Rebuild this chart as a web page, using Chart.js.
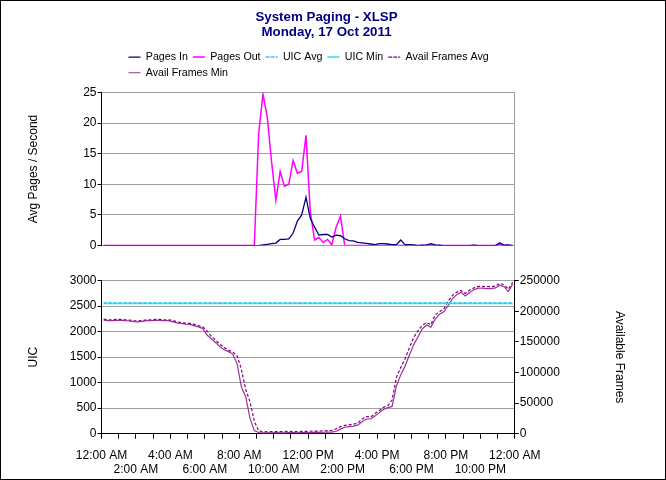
<!DOCTYPE html>
<html>
<head>
<meta charset="utf-8">
<title>System Paging - XLSP</title>
<script src="https://cdn.jsdelivr.net/npm/chart.js@4.4.1/dist/chart.umd.min.js"></script>
<style>
  html, body { margin: 0; padding: 0; background: #fff; }
  #frame { width: 666px; height: 480px; box-sizing: border-box; border: 1px solid #000; background: #fff; }
</style>
</head>
<body>
<div id="frame"><canvas id="paging"></canvas></div>
<script>
// 15 minute samples, 00:00 .. 23:45
const times = [];
for (let h = 0; h < 24; h++) {
  for (let m = 0; m < 60; m += 15) {
    times.push(String(h).padStart(2, "0") + ":" + String(m).padStart(2, "0"));
  }
}

// axis labels every 2 hours
const hourLabels = [
  "12:00 AM", "2:00 AM", "4:00 AM", "6:00 AM", "8:00 AM", "10:00 AM", "12:00 PM",
  "2:00 PM", "4:00 PM", "6:00 PM", "8:00 PM", "10:00 PM", "12:00 AM",
];

const pagesIn = [
  0, 0, 0, 0, 0, 0, 0, 0, 0, 0, 0, 0,
  0, 0, 0, 0, 0, 0, 0, 0, 0, 0, 0, 0,
  0, 0, 0, 0, 0, 0, 0, 0, 0, 0, 0, 0,
  0, 0.1, 0.2, 0.3, 0.4, 1.0, 1.0, 1.1, 2.0, 4.0, 5.0, 7.9,
  4.4, 3.0, 1.7, 1.8, 1.8, 1.4, 1.7, 1.6, 1.1, 0.8, 0.75, 0.5,
  0.45, 0.35, 0.25, 0.15, 0.3, 0.3, 0.25, 0.15, 0.15, 0.9, 0.15, 0.15,
  0.1, 0, 0.05, 0.1, 0.3, 0.1, 0.05, 0, 0, 0, 0, 0,
  0, 0, 0.05, 0, 0, 0, 0, 0, 0.45, 0.05, 0.1, 0,
];

const pagesOut = [
  0, 0, 0, 0, 0, 0, 0, 0, 0, 0, 0, 0,
  0, 0, 0, 0, 0, 0, 0, 0, 0, 0, 0, 0,
  0, 0, 0, 0, 0, 0, 0, 0, 0, 0, 0, 0,
  18.3, 24.7, 21.0, 13.7, 7.4, 12.1, 9.7, 10.0, 13.9, 11.8, 12.1, 18.0,
  5.5, 0.9, 1.3, 0.5, 1.0, 0.1, 3.0, 4.8, 0, 0, 0, 0,
  0, 0, 0, 0, 0, 0, 0, 0, 0, 0, 0, 0,
  0, 0, 0, 0, 0.15, 0, 0, 0, 0, 0, 0, 0,
  0, 0, 0, 0, 0, 0, 0, 0, 0.2, 0, 0, 0,
];

const uicAvg = [
  2565, 2565, 2565, 2565, 2565, 2565, 2565, 2565, 2565, 2565, 2565, 2565,
  2565, 2565, 2565, 2565, 2565, 2565, 2565, 2565, 2565, 2565, 2565, 2565,
  2565, 2565, 2565, 2565, 2565, 2565, 2565, 2565, 2565, 2565, 2565, 2565,
  2565, 2565, 2565, 2565, 2565, 2565, 2565, 2565, 2565, 2565, 2565, 2565,
  2565, 2565, 2565, 2565, 2565, 2565, 2565, 2565, 2565, 2565, 2565, 2565,
  2565, 2565, 2565, 2565, 2565, 2565, 2565, 2565, 2565, 2565, 2565, 2565,
  2565, 2565, 2565, 2565, 2565, 2565, 2565, 2565, 2565, 2565, 2565, 2565,
  2565, 2565, 2565, 2565, 2565, 2565, 2565, 2565, 2565, 2565, 2565, 2565,
];

const uicMin = [
  2550, 2550, 2550, 2550, 2550, 2550, 2550, 2550, 2550, 2550, 2550, 2550,
  2550, 2550, 2550, 2550, 2550, 2550, 2550, 2550, 2550, 2550, 2550, 2550,
  2550, 2550, 2550, 2550, 2550, 2550, 2550, 2550, 2550, 2550, 2550, 2550,
  2550, 2550, 2550, 2550, 2550, 2550, 2550, 2550, 2550, 2550, 2550, 2550,
  2550, 2550, 2550, 2550, 2550, 2550, 2550, 2550, 2550, 2550, 2550, 2550,
  2550, 2550, 2550, 2550, 2550, 2550, 2550, 2550, 2550, 2550, 2550, 2550,
  2550, 2550, 2550, 2550, 2550, 2550, 2550, 2550, 2550, 2550, 2550, 2550,
  2550, 2550, 2550, 2550, 2550, 2550, 2550, 2550, 2550, 2550, 2550, 2550,
];

const framesAvg = [
  187000, 186000, 186000, 186500, 186500, 186000, 185500, 184500, 184000, 185000, 186000, 186000,
  186500, 186500, 186000, 186000, 185000, 182500, 181500, 180500, 180000, 178500, 176500, 174500,
  168000, 159000, 153000, 146000, 140500, 136500, 133500, 127000, 105000, 72000, 52000, 20000,
  4500, 3500, 3200, 3400, 3600, 3300, 3500, 3800, 3600, 3400, 3700, 3900,
  4000, 4200, 4400, 4600, 5000, 5500, 8000, 11500, 13500, 14500, 15500, 17000,
  24000, 28000, 27000, 33000, 37500, 43000, 46000, 55000, 92000, 108000, 122000, 140000,
  157000, 168000, 177000, 181500, 178000, 194000, 199000, 203500, 216000, 225500, 231000, 234000,
  229000, 234500, 238000, 240500, 240500, 240000, 240000, 241000, 245500, 243000, 236000, 247000,
];

const framesMin = [
  185500, 184500, 184500, 185000, 185000, 184500, 184000, 183000, 182500, 183500, 184500, 184500,
  185000, 185000, 184500, 184500, 183000, 181000, 180000, 179000, 178500, 176500, 174500, 172000,
  161000, 155000, 149000, 142000, 137000, 134000, 130000, 114000, 76000, 60000, 25000, 5000,
  2000, 1500, 1400, 1500, 1600, 1400, 1500, 1700, 1600, 1500, 1700, 1800,
  1900, 2000, 2200, 2400, 2600, 2500, 4000, 7500, 10500, 11500, 12500, 14000,
  19500, 24000, 24000, 29000, 34000, 39500, 42500, 44500, 78000, 96000, 110000, 128000,
  145000, 158000, 171000, 177500, 174000, 187000, 195000, 199000, 209000, 220000, 227000, 231000,
  225000, 230500, 235000, 237500, 237500, 237000, 237000, 238000, 242500, 240000, 232000, 244000,
];

Chart.defaults.font.family = "'Liberation Sans', Arial, sans-serif";
Chart.defaults.font.size = 12;
Chart.defaults.color = "#000";

const gridGrey = "#a0a0a0";

function line(label, data, axis, color, width, dash) {
  return {
    label: label,
    data: data,
    yAxisID: axis,
    borderColor: color,
    backgroundColor: color,
    borderWidth: width,
    borderDash: dash || [],
    pointRadius: 0,
    tension: 0,
    fill: false,
  };
}

// fixed axis box sizes so both panels line up with the reference
const leftWidth = (scale) => { scale.width = 80.5; };
const rightWidth = (scale) => { scale.width = 117.2; };

// the legend block starts a little right of the plot edge
const legendNudge = {
  id: "legendNudge",
  afterLayout(chart) {
    chart.legend.left += 22;
    chart.legend.right += 22;
  },
};

new Chart(document.getElementById("paging"), {
  type: "line",
  data: {
    labels: times,
    datasets: [
      line("Pages In", pagesIn, "yTop", "#000080", 1.3),
      line("Pages Out", pagesOut, "yTop", "#ff00ff", 1.5),
      line("UIC Avg", uicAvg, "yUIC", "#33ccff", 1.5, [3, 2]),
      line("UIC Min", uicMin, "yUIC", "#33e0e0", 1.5),
      line("Avail Frames Avg", framesAvg, "yFrames", "#800080", 1.2, [3, 2]),
      line("Avail Frames Min", framesMin, "yFrames", "#993399", 1.2),
    ],
  },
  plugins: [legendNudge],
  options: {
    responsive: true,
    maintainAspectRatio: false,
    animation: false,
    events: [],
    layout: { padding: { left: 20, right: 33, top: 0, bottom: 2 } },
    plugins: {
      tooltip: { enabled: false },
      title: {
        display: true,
        text: ["System Paging - XLSP", "Monday, 17 Oct 2011"],
        color: "#000080",
        font: { size: 13.33, weight: "bold", lineHeight: 1.12 },
        padding: { top: 8.5, bottom: 7.4 },
      },
      legend: {
        position: "top",
        align: "start",
        fullSize: false,
        labels: {
          boxWidth: 12,
          boxHeight: 0,
          padding: 5,
          color: "#000",
          font: { size: 10.67 },
        },
      },
    },
    scales: {
      // samples sit in the middle of their 15 minute slot
      x: { type: "category", offset: true, display: false },
      // visible time axis, hours 0..24
      xTime: {
        type: "linear",
        position: "bottom",
        min: 0,
        max: 24,
        afterFit: (scale) => { scale.height = 43.3; },
        ticks: {
          stepSize: 1,
          maxTicksLimit: 30,
          autoSkip: false,
          maxRotation: 0,
          padding: 9.5,
          callback: (value) => {
            if (value % 2 !== 0) return "";
            const label = hourLabels[value / 2];
            return value % 4 === 0 ? label : ["", label];
          },
        },
        grid: { drawOnChartArea: false, tickLength: 5, tickColor: "#000" },
        border: { color: "#000" },
      },
      // small gap between the legend and the top panel
      xPad: {
        type: "linear",
        position: "top",
        afterFit: (scale) => { scale.height = 4.3; },
        ticks: { display: false },
        grid: { display: false },
        border: { display: false },
      },
      // left stack: bottom panel, gap, top panel
      yUIC: {
        position: "left",
        stack: "left",
        stackWeight: 153,
        min: 0,
        max: 3000,
        afterFit: leftWidth,
        ticks: { stepSize: 500, padding: 1, callback: (v) => String(v) },
        grid: { color: gridGrey, tickColor: "#000", tickLength: 4 },
        border: { color: "#000" },
        title: { display: true, text: "UIC", padding: { top: 5, bottom: 4 } },
      },
      yGap: {
        position: "left",
        stack: "left",
        stackWeight: 35,
        ticks: { display: false },
        grid: { display: false },
        border: { display: false },
      },
      yTop: {
        position: "left",
        stack: "left",
        stackWeight: 153,
        min: 0,
        max: 25,
        afterFit: leftWidth,
        ticks: { stepSize: 5, padding: 1 },
        grid: { color: gridGrey, tickColor: "#000", tickLength: 4 },
        border: { color: "#000" },
        title: { display: true, text: "Avg Pages / Second", padding: { top: 5, bottom: 4 } },
      },
      // right stack: top panel edge, bottom panel frames axis
      yTopR: {
        position: "right",
        stack: "right",
        stackWeight: 188,
        ticks: { display: false },
        grid: { display: false },
        border: { color: gridGrey },
      },
      yFrames: {
        position: "right",
        stack: "right",
        stackWeight: 153,
        min: 0,
        max: 250000,
        afterFit: rightWidth,
        ticks: { stepSize: 50000, padding: 1, callback: (v) => String(v) },
        grid: { drawOnChartArea: false, tickColor: "#000", tickLength: 4 },
        border: { color: "#000" },
        title: { display: true, text: "Available Frames", padding: { top: 5, bottom: 4 } },
      },
    },
  },
});
</script>
</body>
</html>
